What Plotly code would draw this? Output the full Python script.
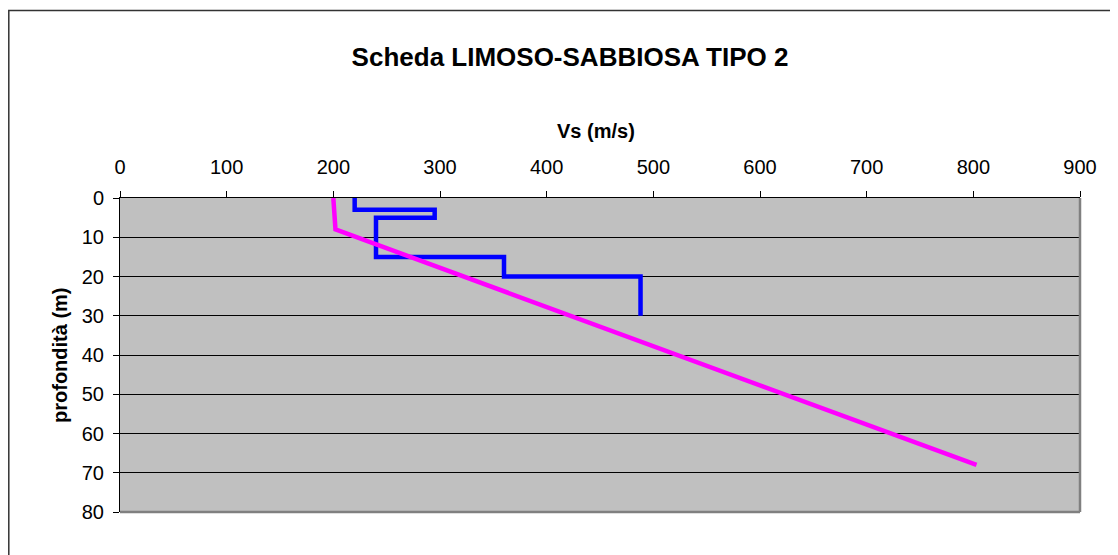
import plotly.graph_objects as go

# profilo Vs misurato (a gradini)
vs_prof = [220, 220, 295, 295, 240, 240, 360, 360, 488, 488]
z_prof = [0, 3, 3, 5, 5, 15, 15, 20, 20, 30]

# curva di riferimento scheda
vs_scheda = [200, 202, 803]
z_scheda = [0, 8, 68]

x_ticks = list(range(0, 1000, 100))
y_ticks = list(range(0, 90, 10))

# la pagina ha 8px di margine: figura un po' più piccola della finestra
W, H = 1110, 547
L, R, T, B = 112, 1072, 190, 504
font = "Liberation Sans, Arial, sans-serif"

fig = go.Figure()
fig.add_trace(go.Scatter(x=vs_prof, y=z_prof, mode="lines",
                         line=dict(color="#0000FF", width=4.5), showlegend=False))
fig.add_trace(go.Scatter(x=vs_scheda, y=z_scheda, mode="lines",
                         line=dict(color="#FF00FF", width=4.5), showlegend=False))

fig.update_layout(
    width=W, height=H,
    margin=dict(l=L, r=W - R, t=T, b=H - B, pad=0),
    paper_bgcolor="white",
    plot_bgcolor="#C0C0C0",
    font=dict(family=font, size=20, color="black"),
    title=dict(text="<b>Scheda LIMOSO-SABBIOSA TIPO 2</b>", font=dict(size=26),
               x=562 / W, xanchor="center", y=1 - 49 / H, yanchor="middle",
               xref="container", yref="container"),
)
fig.update_xaxes(range=[0, 900], side="top", tickvals=x_ticks,
                 ticks="outside", ticklen=6, tickcolor="black",
                 ticklabelstandoff=9,
                 showgrid=False, zeroline=False,
                 showline=True, linecolor="black", linewidth=1)
fig.update_yaxes(range=[80, 0], tickvals=y_ticks,
                 ticks="outside", ticklen=6, tickcolor="black",
                 ticklabelstandoff=5,
                 showgrid=True, gridcolor="black", gridwidth=1,
                 zeroline=False,
                 showline=True, linecolor="black", linewidth=1)

px = lambda v: (v - L) / (R - L)
py = lambda v: (B - v) / (B - T)

# titoli degli assi
fig.add_annotation(text="<b>Vs (m/s)</b>", xref="paper", yref="paper",
                   x=px(588), y=py(123), showarrow=False,
                   font=dict(size=20), xanchor="center", yanchor="middle")
fig.add_annotation(text="<b>profondità (m)</b>", xref="paper", yref="paper",
                   x=px(52), y=0.5, showarrow=False, textangle=-90,
                   font=dict(size=20), xanchor="center", yanchor="middle")

# bordo grigio dell'area del grafico (destra e basso)
fig.add_shape(type="line", xref="paper", yref="paper", x0=1, x1=1, y0=0, y1=1,
              line=dict(color="#808080", width=2.5))
fig.add_shape(type="line", xref="paper", yref="paper", x0=0, x1=1, y0=0, y1=0,
              line=dict(color="#808080", width=2.5))

# cornice esterna del grafico
fig.add_shape(type="rect", xref="paper", yref="paper",
              x0=px(0.8), x1=px(1130), y0=py(570), y1=py(2.5),
              line=dict(color="#333333", width=1.5), layer="below")

fig.write_html("out.html")
